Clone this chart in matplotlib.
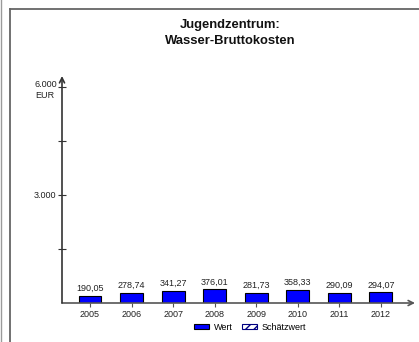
import matplotlib
matplotlib.use("Agg")
import matplotlib.pyplot as plt
from matplotlib.patches import Patch
from matplotlib.lines import Line2D

plt.rcParams['font.family'] = ['Liberation Sans', 'DejaVu Sans']

years = ["2005", "2006", "2007", "2008", "2009", "2010", "2011", "2012"]
wert = [190.05, 278.74, 341.27, 376.01, 281.73, 358.33, 290.09, 294.07]
y_ticks = [1500, 3000, 4500, 6000]
y_tick_labels = {3000: "3.000", 6000: "6.000"}

W, H = 419, 342
fig = plt.figure(figsize=(W / 100, H / 100), dpi=100)
fig.patch.set_facecolor("white")

# outer frame lines
fig.add_artist(Line2D([0.5 / W, 0.5 / W], [0, 1], color="#9a9a9a", lw=1.0))
fig.add_artist(Line2D([10 / W, 10 / W], [0, 1 - 9 / H], color="#666666", lw=1.3))
fig.add_artist(Line2D([10 / W, 1], [1 - 9 / H, 1 - 9 / H], color="#666666", lw=1.3))

# plot area in pixel terms
left_px, right_px = 62, 415
base_px, top_px = 303, 76
ax = fig.add_axes([left_px / W, (H - base_px) / H,
                   (right_px - left_px) / W, (base_px - top_px) / H])
ax.set_facecolor("none")

fs = 6.5
x = list(range(len(years)))
ax.bar(x, wert, width=0.55, color="#0000ff", edgecolor="black", linewidth=0.8, zorder=3)
for xi, v in zip(x, wert):
    ax.text(xi, v + 80, f"{v:.2f}".replace(".", ","), ha="center", va="bottom",
            fontsize=fs, color="#222222")

ax.set_xlim(-0.673, 7.82)
ax.set_ylim(0, 6300)

for s in ["top", "right", "left", "bottom"]:
    ax.spines[s].set_visible(False)

axis_col = "#555555"
ax.annotate("", xy=(1.0, 0), xytext=(0, 0), xycoords="axes fraction",
            arrowprops=dict(arrowstyle="->", color=axis_col, lw=1.2,
                            shrinkA=0, shrinkB=0, mutation_scale=9))
ax.annotate("", xy=(0, 1.0), xytext=(0, 0), xycoords="axes fraction",
            arrowprops=dict(arrowstyle="->", color="#333333", lw=1.2,
                            shrinkA=0, shrinkB=0, mutation_scale=9))

ax.set_xticks(x)
ax.set_xticklabels(years, fontsize=fs, color="#222222")
ax.tick_params(axis="x", direction="out", length=3, width=0.8, color=axis_col, pad=2)

ax.set_yticks(y_ticks)
ax.set_yticklabels([y_tick_labels.get(t, "") if t != 6000 else "" for t in y_ticks],
                   fontsize=fs, color="#222222")
ax.tick_params(axis="y", direction="inout", length=6, width=0.8, color="#333333", pad=1)

# top tick label sits slightly above its tick, with the unit beneath it
ax.annotate(y_tick_labels[6000], xy=(0, 6000), xycoords=ax.get_yaxis_transform(),
            xytext=(-5, 2), textcoords="offset pixels", ha="right", va="center",
            fontsize=fs, color="#222222")
fig.text(45 / W, 1 - 95 / H, "EUR", ha="center", va="center", fontsize=fs, color="#222222")

fig.text(230 / W, 1 - 33 / H, "Jugendzentrum:\nWasser-Bruttokosten", ha="center",
         va="center", fontsize=9.4, fontweight="bold", linespacing=1.35, color="#111111")

handles = [Patch(facecolor="#0000ff", edgecolor="black", linewidth=0.8, label="Wert"),
           Patch(facecolor="white", edgecolor="#000080", hatch="////", linewidth=0.8,
                 label="Schätzwert")]
fig.legend(handles=handles, loc="center", bbox_to_anchor=(250 / W, 1 - 327 / H), ncol=2,
           frameon=False, fontsize=fs, handlelength=1.7, handleheight=0.5,
           handletextpad=0.5, columnspacing=1.0)

fig.savefig("out.png", dpi=100)
